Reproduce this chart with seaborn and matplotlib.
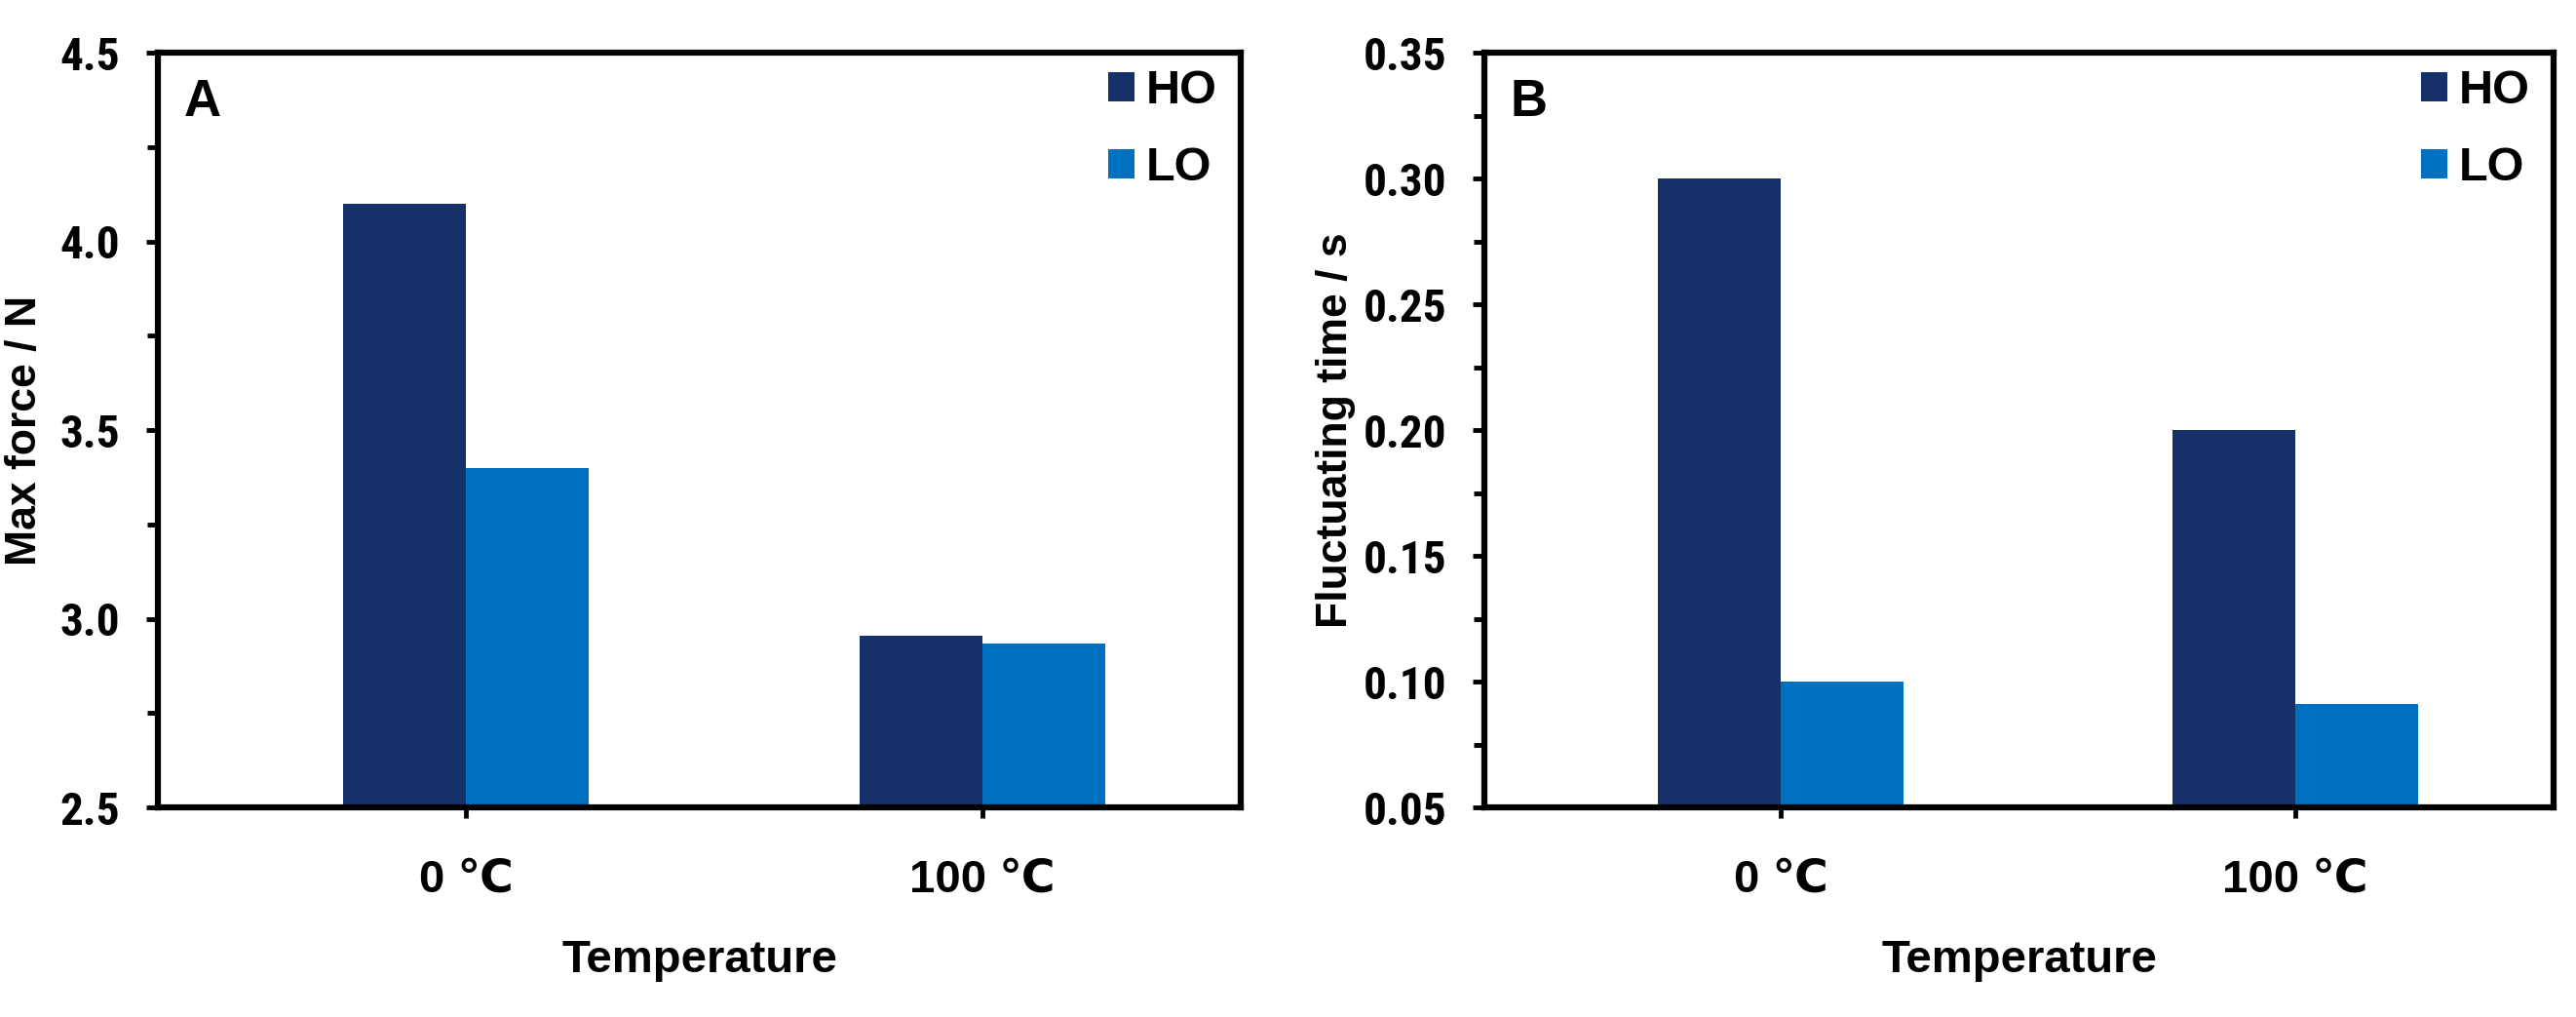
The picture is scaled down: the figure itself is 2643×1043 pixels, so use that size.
import matplotlib
matplotlib.use('Agg')
import matplotlib.pyplot as plt
import seaborn as sns
import pandas as pd
from matplotlib import font_manager
from matplotlib.ticker import MultipleLocator, FormatStrFormatter

# ---- data ----
temperatures = ['0 ℃', '100 ℃']
series = ['HO', 'LO']
max_force_HO = [4.10, 2.955]
max_force_LO = [3.40, 2.935]
fluct_time_HO = [0.30, 0.20]
fluct_time_LO = [0.10, 0.091]
colors = ['#163069', '#0070C0']

sns.set_theme(style='white')
plt.rcParams['font.family'] = ['Liberation Sans', 'DejaVu Sans']
plt.rcParams['font.weight'] = 'bold'
plt.rcParams['axes.labelweight'] = 'bold'
for key in ['text.color', 'axes.labelcolor', 'xtick.color', 'ytick.color', 'axes.edgecolor']:
    plt.rcParams[key] = 'black'

available = {f.name for f in font_manager.fontManager.ttflist}
narrow = 'Liberation Sans'
for cand in ['Liberation Sans Narrow', 'DejaVu Sans Condensed', 'Roboto Condensed']:
    if cand in available:
        narrow = cand
        break

fig = plt.figure(figsize=(26.43, 10.43), dpi=100)
axA = fig.add_axes([0.0613, 0.2061, 0.4204, 0.7421])
axB = fig.add_axes([0.5762, 0.2061, 0.4151, 0.7421])


def long_df(ho, lo):
    return pd.DataFrame({
        'Temperature': temperatures * 2,
        'Series': [series[0]] * len(ho) + [series[1]] * len(lo),
        'Value': list(ho) + list(lo),
    })


panels = [
    (axA, max_force_HO, max_force_LO, 'Max force / N', (2.5, 4.5), 0.5, 0.25, '%.1f', 'A', (-0.596, 1.5), -0.104),
    (axB, fluct_time_HO, fluct_time_LO, 'Fluctuating time / s', (0.05, 0.35), 0.05, 0.025, '%.2f', 'B', (-0.576, 1.502), -0.120),
]

for ax, ho, lo, ylab, ylim, major, minor, fmt, letter, xlim, ylab_x in panels:
    df = long_df(ho, lo)
    sns.barplot(data=df, x='Temperature', y='Value', hue='Series', order=temperatures,
                hue_order=series, palette=colors, width=0.476, gap=0, saturation=1,
                linewidth=0, ax=ax)
    ax.set_ylim(*ylim)
    ax.set_xlim(*xlim)
    ax.yaxis.set_major_locator(MultipleLocator(major))
    ax.yaxis.set_minor_locator(MultipleLocator(minor))
    ax.yaxis.set_major_formatter(FormatStrFormatter(fmt))
    for sp in ax.spines.values():
        sp.set_visible(True)
        sp.set_color('black')
        sp.set_linewidth(4.5)
    ax.tick_params(axis='y', which='major', direction='out', length=9, width=3.5,
                   labelsize=34, pad=19, left=True, color='black', labelcolor='black',
                   labelfontfamily=[narrow, 'Liberation Sans'])
    ax.tick_params(axis='y', which='minor', direction='out', length=8, width=3.5,
                   left=True, color='black')
    ax.tick_params(axis='x', which='major', direction='out', length=8, width=3.5,
                   labelsize=34, pad=30, bottom=True, color='black', labelcolor='black')
    ax.set_xlabel('Temperature', fontsize=34, fontweight='bold', color='black')
    ax.set_ylabel(ylab, fontsize=32, fontweight='bold', color='black')
    ax.xaxis.set_label_coords(0.5, -0.174)
    ax.yaxis.set_label_coords(ylab_x, 0.5)
    handles, labels = ax.get_legend_handles_labels()
    ax.legend(handles, labels, loc='upper right', bbox_to_anchor=(0.978, 0.978),
              frameon=False, prop={'size': 35, 'weight': 'bold'},
              handlelength=0.55, handleheight=0.55, handletextpad=0.25,
              labelspacing=0.7, borderpad=0, borderaxespad=0, labelcolor='black')
    ax.text(0.024, 0.934, letter, transform=ax.transAxes, fontsize=38,
            fontweight='bold', va='center', ha='left', color='black')

fig.savefig('out.png', dpi=100, facecolor='white')
